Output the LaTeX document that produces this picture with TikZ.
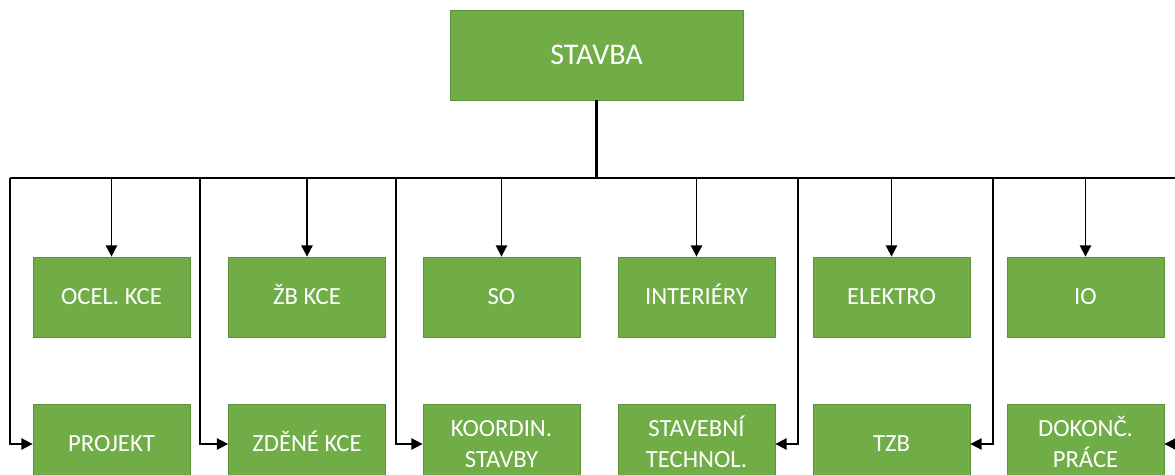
\documentclass[tikz,border=0pt]{standalone}
\usepackage{fontspec}
\setmainfont{Carlito}
\usetikzlibrary{arrows.meta}
\definecolor{boxgreen}{HTML}{70AD47}
\definecolor{boxedge}{HTML}{5B9338}
\begin{document}
\begin{tikzpicture}[x=0.75pt,y=-0.75pt,
  unit/.style={rectangle, fill=boxgreen, draw=boxedge, line width=0.6pt,
    text=white, minimum width=117.75pt, minimum height=60pt, inner sep=0pt,
    align=center, font=\fontsize{18.5}{23.25}\selectfont},
  one/.style={unit, text height=11.9pt, text depth=0pt},
  % two-line labels: the box sits on the last baseline
  two/.style={unit, text height=35.15pt, text depth=0pt},
  head/.style={unit, minimum width=219.75pt, minimum height=67.5pt,
    font=\fontsize{22.5}{27}\selectfont, text height=14.5pt, text depth=0pt},
  link/.style={line width=1.4pt, -{Triangle[length=8.5pt,width=8.5pt]}},
  bus/.style={line width=1.6pt},
  stem/.style={line width=2.6pt}]
\useasboundingbox (0,0) rectangle (1175,475);
\clip (0,0) rectangle (1175,475);

% root
\node[head] (root) at (596.5,55) {STAVBA};

% upper row
\node[one] (ocel)  at (111.5,297) {OCEL. KCE};
\node[one] (zb)    at (307,297)   {ŽB KCE};
\node[one] (so)    at (501.5,297) {SO};
\node[one] (inter) at (696.5,297) {INTERIÉRY};
\node[one] (elek)  at (891.5,297) {ELEKTRO};
\node[one] (io)    at (1085.5,297) {IO};

% lower row
\node[one] (proj)  at (111.5,444) {PROJEKT};
\node[one] (zden)  at (307,444)   {ZDĚNÉ KCE};
\node[two] (koord) at (501.5,444) {KOORDIN.\\STAVBY};
\node[two] (tech)  at (696.5,444) {STAVEBNÍ\\TECHNOL.};
\node[one] (tzb)   at (891.5,444) {TZB};
\node[two] (dok)   at (1085.5,444) {DOKONČ.\\PRÁCE};

% distribution bus
\coordinate (busL) at (10,178);
\coordinate (busR) at (1188,178);
\coordinate (f1) at (10,178);
\coordinate (f2) at (200,178);
\coordinate (f3) at (396,178);
\coordinate (f4) at (798,178);
\coordinate (f5) at (993,178);
\coordinate (f6) at (1188,178);

\draw[stem] (root.south) -- (root.south |- busL);
\draw[bus] (busL) -- (busR);

% drops to the upper row
\foreach \n in {ocel,zb,so,inter,elek,io}
  \draw[link] (\n |- busL) -- (\n);

% side feeds to the lower row
\draw[link] (f1) |- (proj);
\draw[link] (f2) |- (zden);
\draw[link] (f3) |- (koord);
\draw[link] (f4) |- (tech);
\draw[link] (f5) |- (tzb);
\draw[link] (f6) |- (dok);
\end{tikzpicture}
\end{document}
